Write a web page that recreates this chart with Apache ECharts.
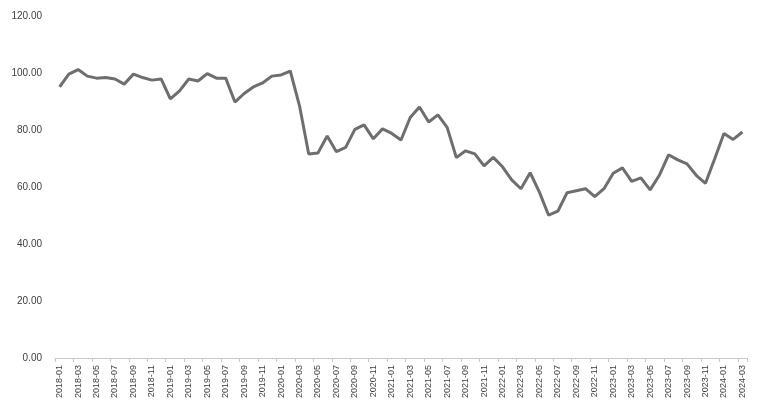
<!DOCTYPE html>
<html>
<head>
<meta charset="utf-8">
<script src="https://cdn.jsdelivr.net/npm/echarts@6/dist/echarts.min.js"></script>
<style>
  html, body { margin: 0; padding: 0; background: #fff; }
  #chart { width: 764px; height: 416px; }
</style>
</head>
<body>
<div id="chart"></div>
<script>
// monthly categories 2018-01 .. 2024-03
const months = [];
for (let y = 2018; y <= 2024; y++) {
    for (let m = 1; m <= 12; m++) {
        if (y === 2024 && m > 3) break;
        months.push(y + '-' + (m < 10 ? '0' + m : m));
    }
}

const values = [
    95.1, 99.6, 101.2, 98.9, 98.2, 98.4, 97.9, 96.1, 99.6, 98.4, 97.5, 97.9,
    90.9, 93.7, 97.9, 97.2, 99.8, 98.2, 98.2, 89.8, 92.8, 95.1, 96.5, 98.9,
    99.3, 100.7, 88.5, 71.6, 71.9, 77.9, 72.4, 73.9, 80.2, 81.8, 76.9, 80.4,
    78.8, 76.5, 84.4, 88.1, 82.8, 85.3, 80.9, 70.3, 72.7, 71.6, 67.4, 70.4,
    67.1, 62.5, 59.4, 65.0, 58.2, 50.1, 51.5, 58.0, 58.7, 59.4, 56.6, 59.4,
    64.8, 66.7, 62.0, 63.2, 59.0, 64.1, 71.3, 69.5, 68.1, 64.1, 61.3, 69.9,
    78.8, 76.7, 79.3
];

const yMin = 0;
const yMax = 120;
const yStep = 20;

const chart = echarts.init(document.getElementById('chart'));

const option = {
    animation: false,
    backgroundColor: '#ffffff',
    grid: {
        left: 55,
        right: 17,
        top: 16,
        bottom: 58
    },
    xAxis: {
        type: 'category',
        data: months,
        boundaryGap: true,
        axisLine: {
            lineStyle: { color: '#c8c8c8', width: 1 }
        },
        axisTick: {
            show: true,
            interval: 1,
            length: 4,
            lineStyle: { color: '#c8c8c8' }
        },
        axisLabel: {
            interval: 1,
            rotate: 90,
            margin: 7,
            fontSize: 9,
            color: '#404040',
            fontFamily: 'Liberation Sans, Arial, sans-serif'
        },
        splitLine: { show: false }
    },
    yAxis: {
        type: 'value',
        min: yMin,
        max: yMax,
        interval: yStep,
        axisLine: { show: false },
        axisTick: { show: false },
        splitLine: { show: false },
        axisLabel: {
            margin: 13,
            fontSize: 10,
            color: '#404040',
            fontFamily: 'Liberation Sans, Arial, sans-serif',
            formatter: (v) => v.toFixed(2)
        }
    },
    series: [
        {
            type: 'line',
            data: values,
            symbol: 'none',
            lineStyle: { color: '#6e6e6e', width: 3 }
        }
    ]
};

chart.setOption(option);
</script>
</body>
</html>
